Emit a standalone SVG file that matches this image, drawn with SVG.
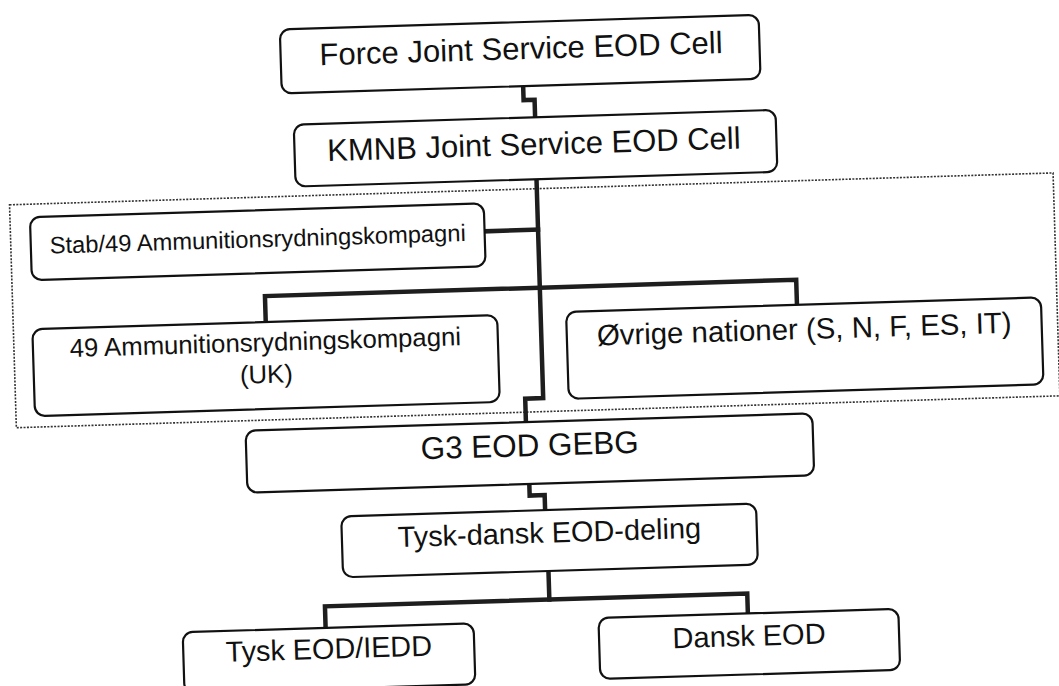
<svg xmlns="http://www.w3.org/2000/svg" width="1059" height="686" viewBox="0 0 1059 686">
<style>
.box{fill:#fff;stroke:#111;stroke-width:2.2}
.lbl{font-family:"Liberation Sans",Arial,sans-serif;fill:#111;text-anchor:middle}
.conn{fill:none;stroke:#1e1e1e;stroke-width:4.5;stroke-linejoin:miter;stroke-linecap:square}
.frame{fill:none;stroke:#333;stroke-width:1.6;stroke-dasharray:2 1.4}
</style>
<rect width="1059" height="686" fill="#fff"/>
<g transform="rotate(-1.75 529.5 343)">
  <rect id="group-frame" class="frame" x="14" y="189" width="1044" height="223"/>
  <g id="connectors">
    <path class="conn" d="M531 86 V100 H542 V117.5"/>
    <path class="conn" d="M541.5 179.5 V398.5 H523.5 V422"/>
    <path class="conn" d="M488 230 H541.5"/>
    <path class="conn" d="M266.5 314 V288 H798 V313"/>
    <path class="conn" d="M525 484 V495.5 H540 V510.5"/>
    <path class="conn" d="M541.5 571.5 V600"/>
    <path class="conn" d="M317 621.5 V600 H739.5 V620"/>
  </g>
  <g id="force-jsec">
    <rect class="box" x="289.5" y="22" width="479" height="64" rx="10"/>
    <text class="lbl" x="530" y="59" font-size="31">Force Joint Service EOD Cell</text>
  </g>
  <g id="kmnb-jsec">
    <rect class="box" x="300.5" y="117.5" width="482" height="62" rx="10"/>
    <text class="lbl" x="540" y="155" font-size="31">KMNB Joint Service EOD Cell</text>
  </g>
  <g id="stab49">
    <rect class="box" x="34" y="202" width="454" height="63" rx="10"/>
    <text class="lbl" x="261" y="239" font-size="23.7">Stab/49 Ammunitionsrydningskompagni</text>
  </g>
  <g id="ark49">
    <rect class="box" x="33" y="314" width="465" height="87" rx="10"/>
    <text class="lbl" x="265.5" y="343" font-size="25.7">49 Ammunitionsrydningskompagni</text>
    <text class="lbl" x="265.5" y="375" font-size="25.7">(UK)</text>
  </g>
  <g id="ovrige">
    <rect class="box" x="567" y="313" width="475" height="87" rx="10"/>
    <text class="lbl" x="804.5" y="347.5" font-size="29.4">Øvrige nationer (S, N, F, ES, IT)</text>
  </g>
  <g id="g3-eod">
    <rect class="box" x="243" y="422" width="567" height="62" rx="10"/>
    <text class="lbl" x="526.5" y="456" font-size="31.4">G3 EOD GEBG</text>
  </g>
  <g id="tysk-dansk">
    <rect class="box" x="336" y="510.5" width="415" height="61" rx="10"/>
    <text class="lbl" x="543.5" y="543" font-size="28.9">Tysk-dansk EOD-deling</text>
  </g>
  <g id="tysk-eod">
    <rect class="box" x="174" y="621.5" width="291" height="61" rx="10"/>
    <text class="lbl" x="319.5" y="652.4" font-size="28.8">Tysk EOD/IEDD</text>
  </g>
  <g id="dansk-eod">
    <rect class="box" x="590" y="620" width="300" height="61" rx="10"/>
    <text class="lbl" x="740" y="652.4" font-size="29">Dansk EOD</text>
  </g>
</g>
</svg>
